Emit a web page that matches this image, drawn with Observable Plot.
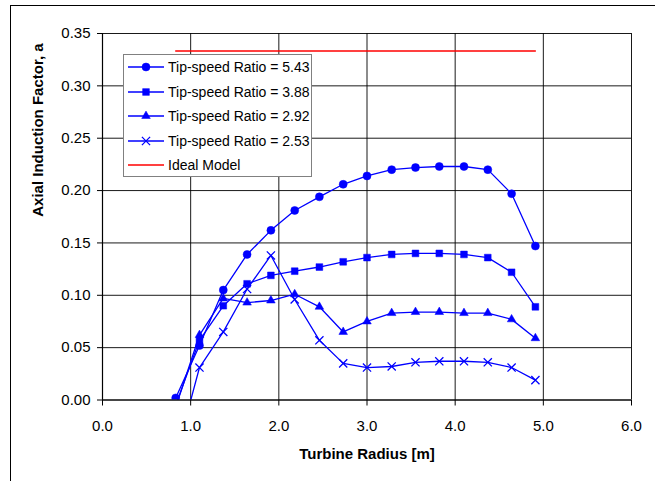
<!DOCTYPE html>
<html>
<head>
<meta charset="utf-8">
<script src="https://cdn.jsdelivr.net/npm/d3@7"></script>
<script src="https://cdn.jsdelivr.net/npm/@observablehq/plot@0.6"></script>
<style>
  html, body { margin: 0; padding: 0; background: #fff; }
  body { width: 655px; height: 481px; overflow: hidden; position: relative; font-family: "Liberation Sans", Arial, sans-serif; }
  #outer { position: absolute; left: 10px; top: 5px; width: 800px; height: 700px; border-left: 1px solid #000; border-top: 1px solid #000; }
  #chart { position: absolute; left: 0; top: 0; }
  #legend { position: absolute; left: 123px; top: 54px; width: 187px; height: 121px; background: #fff; border: 1.5px solid #808080; box-sizing: content-box; }
  .entry { position: absolute; left: 0; height: 20px; display: flex; align-items: center; font-size: 14px; color: #000; white-space: nowrap; }
  .entry svg { margin-left: 4px; margin-right: 4px; }
</style>
</head>
<body>
<div id="outer"></div>
<div id="chart"></div>
<div id="legend"></div>
<script>
// ---- data ----
const radius = [0.83, 1.10, 1.37, 1.64, 1.91, 2.18, 2.46, 2.73, 3.00, 3.28, 3.55, 3.82, 4.10, 4.37, 4.64, 4.91];
const tsr543 = [0.002, 0.052, 0.105, 0.139, 0.162, 0.181, 0.194, 0.206, 0.214, 0.220, 0.222, 0.223, 0.223, 0.220, 0.197, 0.147];
const tsr388 = [-0.005, 0.057, 0.090, 0.111, 0.119, 0.123, 0.127, 0.132, 0.136, 0.139, 0.140, 0.140, 0.139, 0.136, 0.122, 0.089];
const tsr292 = [-0.007, 0.062, 0.097, 0.093, 0.095, 0.101, 0.089, 0.065, 0.075, 0.083, 0.084, 0.084, 0.083, 0.083, 0.077, 0.059];
const tsr253 = [-0.054, 0.031, 0.065, 0.106, 0.138, 0.096, 0.057, 0.035, 0.031, 0.032, 0.036, 0.037, 0.037, 0.036, 0.031, 0.019];
const idealModel = [0.3333, 0.3333, 0.3333, 0.3333, 0.3333, 0.3333, 0.3333, 0.3333, 0.3333, 0.3333, 0.3333, 0.3333, 0.3333, 0.3333, 0.3333, 0.3333];

const seriesNames = ["Tip-speed Ratio = 5.43", "Tip-speed Ratio = 3.88", "Tip-speed Ratio = 2.92", "Tip-speed Ratio = 2.53"];
const seriesValues = [tsr543, tsr388, tsr292, tsr253];
const seriesSymbols = ["circle", "square", "triangle", "times"];
const idealName = "Ideal Model";

const xTicks = [0, 1, 2, 3, 4, 5, 6];
const yTicks = [0, 0.05, 0.10, 0.15, 0.20, 0.25, 0.30, 0.35];
const xTitle = "Turbine Radius [m]";
const yTitle = "Axial Induction Factor, a";

// ---- build ----
const blue = "#0000ff";
const red = "#ff0000";
const symR = {circle: 4, square: 3.8, triangle: 3.2, times: 3.8};

const rows = (vals) => radius.map((r, i) => ({r, a: vals[i]}));

const marks = [
  Plot.gridX(xTicks, {stroke: "#000", strokeOpacity: 0.9, strokeWidth: 1}),
  Plot.gridY(yTicks, {stroke: "#000", strokeOpacity: 0.9, strokeWidth: 1}),
  Plot.line(rows(idealModel), {x: "r", y: "a", stroke: red, strokeWidth: 1.3, clip: true})
];
seriesValues.forEach((vals, k) => {
  const d = rows(vals);
  marks.push(Plot.line(d, {x: "r", y: "a", stroke: blue, strokeWidth: 1.3, clip: true}));
  const sym = seriesSymbols[k];
  if (sym === "times") {
    marks.push(Plot.dot(d, {x: "r", y: "a", symbol: sym, r: symR[sym], stroke: blue, strokeWidth: 1.3, clip: true}));
  } else {
    marks.push(Plot.dot(d, {x: "r", y: "a", symbol: sym, r: symR[sym], fill: blue, stroke: blue, strokeWidth: 0.5, clip: true}));
  }
});
marks.push(
  Plot.axisX(xTicks, {tickSize: 6, tickPadding: 14, fontSize: 15, tickFormat: d => d.toFixed(1), label: null, stroke: "#000"}),
  Plot.axisY(yTicks, {tickSize: 5, tickPadding: 7, fontSize: 15, tickFormat: d => d.toFixed(2), label: null, stroke: "#000"}),
  Plot.ruleX([0], {stroke: "#000", strokeWidth: 1.2}),
  Plot.ruleY([0], {stroke: "#000", strokeWidth: 1.2}),
  Plot.text([xTitle], {frameAnchor: "bottom", dy: 59, fontSize: 15, fontWeight: "bold", fill: "#000"}),
  Plot.text([yTitle], {frameAnchor: "left", dx: -64, rotate: -90, fontSize: 15, fontWeight: "bold", fill: "#000"})
);

const chart = Plot.plot({
  width: 655,
  height: 481,
  marginLeft: 102,
  marginRight: 24,
  marginTop: 33,
  marginBottom: 81.5,
  style: {fontFamily: "'Liberation Sans', Arial, sans-serif", color: "#000", background: "transparent", overflow: "visible"},
  x: {domain: [0, 6]},
  y: {domain: [0, 0.35]},
  marks
});
document.getElementById("chart").appendChild(chart);

// ---- legend ----
const legend = document.getElementById("legend");
const entries = seriesNames.map((n, k) => ({name: n, color: blue, symbol: seriesSymbols[k]}));
entries.push({name: idealName, color: red, symbol: null});
entries.forEach((e, i) => {
  const div = document.createElement("div");
  div.className = "entry";
  div.style.top = (2 + i * 24.5) + "px";
  const svg = d3.create("svg").attr("width", 36).attr("height", 20);
  svg.append("line").attr("x1", 0).attr("x2", 36).attr("y1", 10).attr("y2", 10).attr("stroke", e.color).attr("stroke-width", 1.3);
  if (e.symbol) {
    const typeMap = {circle: d3.symbolCircle, square: d3.symbolSquare, triangle: d3.symbolTriangle, times: d3.symbolTimes};
    const r = symR[e.symbol];
    const p = d3.symbol(typeMap[e.symbol], Math.PI * r * r)();
    const g = svg.append("path").attr("d", p).attr("transform", "translate(18,10)");
    if (e.symbol === "times") g.attr("fill", "none").attr("stroke", e.color).attr("stroke-width", 1.3);
    else g.attr("fill", e.color).attr("stroke", e.color).attr("stroke-width", 0.5);
  }
  div.appendChild(svg.node());
  const span = document.createElement("span");
  span.textContent = e.name;
  div.appendChild(span);
  legend.appendChild(div);
});
</script>
</body>
</html>
